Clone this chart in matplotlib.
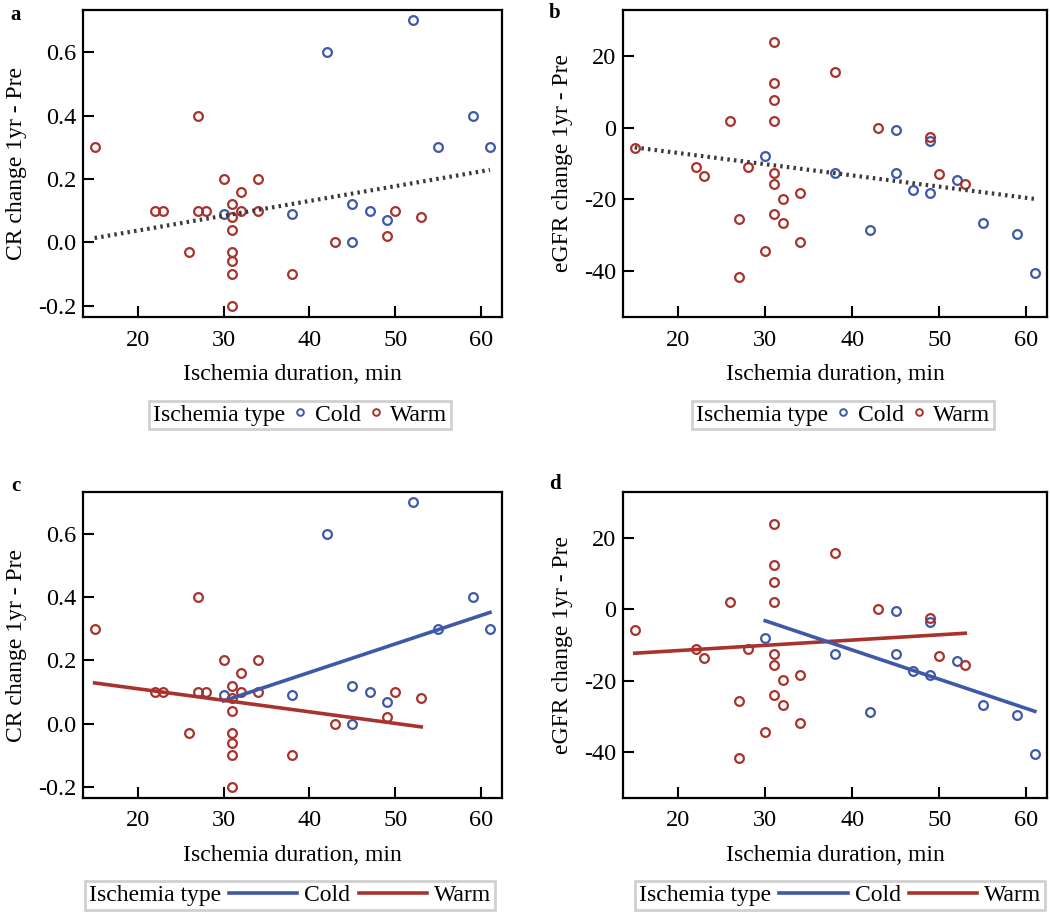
import numpy as np
import matplotlib
matplotlib.use("Agg")
import matplotlib.pyplot as plt
from matplotlib.lines import Line2D
from matplotlib.ticker import FormatStrFormatter

plt.rcParams['font.family'] = ['Liberation Serif', 'DejaVu Serif']
plt.rcParams['axes.unicode_minus'] = False

# ---- data ----
warm_x = [15, 22, 23, 26, 27, 27, 28, 30, 31, 31, 31, 31, 31, 31, 31, 32, 32, 34, 34, 38, 43, 49, 50, 53]
warm_cr = [0.30, 0.10, 0.10, -0.03, 0.40, 0.10, 0.10, 0.20, 0.12, 0.08, 0.04, -0.03, -0.06, -0.10, -0.20,
           0.16, 0.10, 0.20, 0.10, -0.10, 0.00, 0.02, 0.10, 0.08]
warm_egfr_x = [15, 22, 23, 26, 27, 27, 28, 30, 31, 31, 31, 31, 31, 31, 31, 32, 32, 34, 34, 38, 43, 49, 50, 53]
warm_egfr = [-5.8, -11.0, -13.6, 2.0, -25.6, -41.8, -11.0, -34.5, 24.0, 12.5, 7.8, 2.0, -12.6, -15.7, -24.0,
             -19.9, -26.7, -18.3, -31.9, 15.7, 0.0, -2.5, -13.0, -15.7]

cold_x = [30, 38, 42, 45, 45, 47, 49, 52, 55, 59, 61]
cold_cr = [0.09, 0.09, 0.60, 0.12, 0.00, 0.10, 0.07, 0.70, 0.30, 0.40, 0.30]
cold_egfr_x = [30, 38, 42, 45, 45, 47, 49, 49, 52, 55, 59, 61]
cold_egfr = [-7.9, -12.6, -28.7, -0.6, -12.6, -17.3, -3.6, -18.3, -14.6, -26.7, -29.7, -40.7]

# fitted lines (end points)
fit_all_x = [15, 61]
fit_all_cr = [0.014, 0.229]
fit_all_egfr = [-5.5, -19.9]
fit_warm_x = [15, 53]
fit_warm_cr = [0.129, -0.010]
fit_warm_egfr = [-12.3, -6.7]
fit_cold_x = [30, 61]
fit_cold_cr = [0.072, 0.352]
fit_cold_egfr = [-3.2, -28.6]

BLUE = '#3f58a8'
RED = '#a8332e'
FS = 17

fig = plt.figure(figsize=(10.5, 9.16), dpi=100)
W, H = 1050, 916


def make_ax(l, t, r, b):
    return fig.add_axes([l / W, 1 - b / H, (r - l) / W, (b - t) / H])


def style(ax, ylabel, ylim, yticks, fmt):
    ax.set_xlim(13.65, 62.4)
    ax.set_ylim(*ylim)
    ax.set_xticks([20, 30, 40, 50, 60])
    ax.set_yticks(yticks)
    ax.yaxis.set_major_formatter(FormatStrFormatter(fmt))
    ax.tick_params(direction='in', length=8, width=1.5, labelsize=FS + 0.5, top=False, right=False)
    ax.tick_params(axis='x', pad=9)
    ax.tick_params(axis='y', pad=5)
    for s in ax.spines.values():
        s.set_linewidth(1.6)
    ax.set_xlabel('Ischemia duration, min', fontsize=FS, labelpad=10)
    ax.set_ylabel(ylabel, fontsize=FS, labelpad=8)


def inline_legend(ax, handles, labels, cx, handlelength):
    leg = ax.legend(handles, labels, title='Ischemia type', title_fontsize=FS, fontsize=FS,
                    ncol=len(handles), loc='upper center', bbox_to_anchor=(cx, -0.272),
                    frameon=True, fancybox=False, framealpha=1, borderpad=0.15,
                    handlelength=handlelength, handletextpad=0.3, columnspacing=0.35,
                    borderaxespad=0)
    leg.get_frame().set_edgecolor('#d0d0d0')
    leg.get_frame().set_linewidth(2)
    vbox = leg._legend_box
    title_box, handle_box = vbox.get_children()
    vbox._children = [handle_box]
    handle_box._children.insert(0, title_box)
    return leg


def scatter(ax, x_w, y_w, x_c, y_c):
    ax.plot(x_c, y_c, 'o', ms=6.3, mfc='none', mec=BLUE, mew=1.6, zorder=2)
    ax.plot(x_w, y_w, 'o', ms=6.3, mfc='none', mec=RED, mew=1.6, zorder=2)


marker_handles = [Line2D([], [], marker='o', ls='none', ms=4.8, mfc='none', mec=BLUE, mew=1.4),
                  Line2D([], [], marker='o', ls='none', ms=4.8, mfc='none', mec=RED, mew=1.4)]
line_handles = [Line2D([], [], color=BLUE, lw=2.6),
                Line2D([], [], color=RED, lw=2.6)]

# a
ax = make_ax(83, 10, 502, 317)
scatter(ax, warm_x, warm_cr, cold_x, cold_cr)
ax.plot(fit_all_x, fit_all_cr, color='#3a3a3a', lw=3.0, ls=(0, (0.6, 1.0)), zorder=3)
style(ax, 'CR change 1yr - Pre', (-0.235, 0.733), [-0.2, 0.0, 0.2, 0.4, 0.6], '%.1f')
inline_legend(ax, marker_handles, ['Cold', 'Warm'], 0.518, 0.6)

# b
ax = make_ax(623, 10, 1047, 317)
scatter(ax, warm_egfr_x, warm_egfr, cold_egfr_x, cold_egfr)
ax.plot(fit_all_x, fit_all_egfr, color='#3a3a3a', lw=3.0, ls=(0, (0.6, 1.0)), zorder=3)
style(ax, 'eGFR change 1yr - Pre', (-52.9, 32.9), [-40, -20, 0, 20], '%d')
inline_legend(ax, marker_handles, ['Cold', 'Warm'], 0.519, 0.6)

# c
ax = make_ax(83, 492, 502, 798)
scatter(ax, warm_x, warm_cr, cold_x, cold_cr)
ax.plot(fit_cold_x, fit_cold_cr, color=BLUE, lw=2.6, zorder=3)
ax.plot(fit_warm_x, fit_warm_cr, color=RED, lw=2.6, zorder=3)
style(ax, 'CR change 1yr - Pre', (-0.235, 0.733), [-0.2, 0.0, 0.2, 0.4, 0.6], '%.1f')
inline_legend(ax, line_handles, ['Cold', 'Warm'], 0.494, 2.9)

# d
ax = make_ax(623, 492, 1047, 798)
scatter(ax, warm_egfr_x, warm_egfr, cold_egfr_x, cold_egfr)
ax.plot(fit_warm_x, fit_warm_egfr, color=RED, lw=2.6, zorder=3)
ax.plot(fit_cold_x, fit_cold_egfr, color=BLUE, lw=2.6, zorder=3)
style(ax, 'eGFR change 1yr - Pre', (-52.9, 32.9), [-40, -20, 0, 20], '%d')
inline_legend(ax, line_handles, ['Cold', 'Warm'], 0.512, 2.9)

for letter, px, py in [('a', 10, 5), ('b', 549, 3), ('c', 11, 476), ('d', 549, 474)]:
    fig.text(px / W, 1 - py / H, letter, fontsize=15, fontweight='bold', ha='left', va='top')

fig.savefig('out.png', dpi=100)
